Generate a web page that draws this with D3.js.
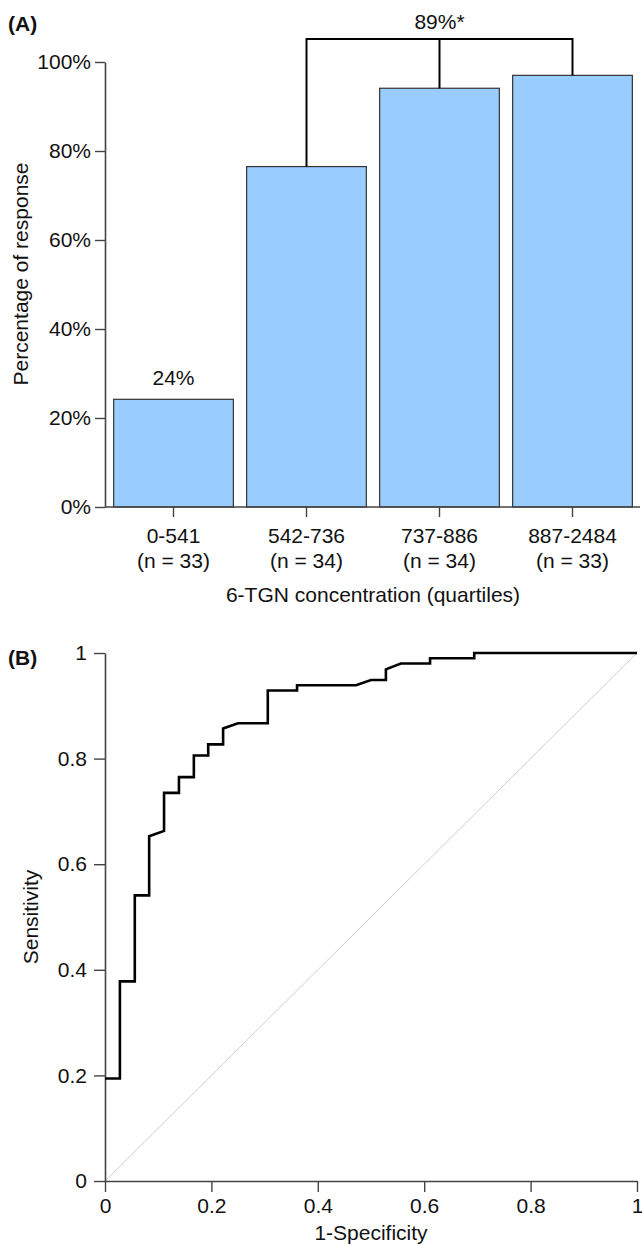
<!DOCTYPE html>
<html>
<head>
<meta charset="utf-8">
<script src="https://cdn.jsdelivr.net/npm/d3@7"></script>
<style>
  body { margin: 0; background: #fff; }
  text { font-family: "Liberation Sans", Arial, Helvetica, sans-serif; fill: #111; }
</style>
</head>
<body>
<div id="chart"></div>
<script>
// panel A data
var quartiles = ["0-541", "542-736", "737-886", "887-2484"];
var nCounts = ["(n = 33)", "(n = 34)", "(n = 34)", "(n = 33)"];
var responsePct = [24.2, 76.5, 94.1, 97.0];
var yTicksA = [0, 20, 40, 60, 80, 100];
var firstLabel = "24%";
var groupLabel = "89%*";

// panel B data (ROC steps)
var rocFpr = [0, 0.028, 0.028, 0.056, 0.056, 0.083, 0.083, 0.111, 0.111, 0.139, 0.139, 0.167, 0.167,
  0.194, 0.194, 0.222, 0.222, 0.250, 0.306, 0.306, 0.361, 0.361, 0.472, 0.500, 0.528, 0.528, 0.556,
  0.611, 0.611, 0.694, 0.694, 1];
var rocTpr = [0.194, 0.194, 0.378, 0.378, 0.541, 0.541, 0.653, 0.663, 0.735, 0.735, 0.765, 0.765, 0.806,
  0.806, 0.827, 0.827, 0.857, 0.867, 0.867, 0.929, 0.929, 0.939, 0.939, 0.949, 0.949, 0.969, 0.980,
  0.980, 0.990, 0.990, 1, 1];
var ticksB = [0, 0.2, 0.4, 0.6, 0.8, 1];

var W = 642, H = 1245, FS = 21;
var axisCol = "#444";

var svg = d3.select("#chart").append("svg")
  .attr("width", W).attr("height", H);

// ---------- panel A ----------
var xA = d3.scaleBand().domain(quartiles).range([107, 639]).paddingInner(0.1).paddingOuter(0.05);
var yA = d3.scaleLinear().domain([0, 100]).range([507, 62]);

var gA = svg.append("g");

gA.selectAll("rect.bar")
  .data(responsePct)
  .enter().append("rect")
  .attr("class", "bar")
  .attr("x", function(d, i) { return xA(quartiles[i]); })
  .attr("y", function(d) { return yA(d); })
  .attr("width", xA.bandwidth())
  .attr("height", function(d) { return yA(0) - yA(d); })
  .attr("style", "fill:#99ccff;stroke:#333;stroke-width:1.2");

var yAxisA = gA.append("g")
  .attr("transform", "translate(105,0)")
  .call(d3.axisLeft(yA).tickValues(yTicksA).tickFormat(function(d) { return d + "%"; })
    .tickSize(10).tickSizeOuter(0).tickPadding(4));

var xAxisA = gA.append("g")
  .attr("transform", "translate(0," + yA(0) + ")")
  .call(d3.axisBottom(xA).tickSize(10).tickPadding(11));
xAxisA.select(".domain").remove();
xAxisA.append("line")
  .attr("x1", 105).attr("x2", 640).attr("y1", 0).attr("y2", 0)
  .attr("stroke", axisCol).attr("stroke-width", 1.6);
xAxisA.selectAll(".tick text").each(function(d, i) {
  var t = d3.select(this);
  t.text(null);
  t.append("tspan").attr("x", 0).text(quartiles[i]);
  t.append("tspan").attr("x", 0).attr("dy", "1.2em").text(nCounts[i]);
});

gA.append("text")
  .attr("x", xA(quartiles[0]) + xA.bandwidth() / 2)
  .attr("y", 385)
  .attr("text-anchor", "middle")
  .attr("font-size", FS)
  .text(firstLabel);

// bracket over groups 2-4
var bracketY = 39;
var cx = quartiles.map(function(q) { return xA(q) + xA.bandwidth() / 2; });
gA.append("line")
  .attr("x1", cx[1]).attr("x2", cx[3]).attr("y1", bracketY).attr("y2", bracketY)
  .attr("stroke", "#000").attr("stroke-width", 2);
for (var i = 1; i < 4; i++) {
  gA.append("line")
    .attr("x1", cx[i]).attr("x2", cx[i])
    .attr("y1", bracketY - 1).attr("y2", yA(responsePct[i]))
    .attr("stroke", "#000").attr("stroke-width", 2);
}
gA.append("text")
  .attr("x", cx[2]).attr("y", 29)
  .attr("text-anchor", "middle")
  .attr("font-size", FS)
  .text(groupLabel);

gA.append("text")
  .attr("transform", "translate(28,274) rotate(-90)")
  .attr("text-anchor", "middle")
  .attr("font-size", FS)
  .text("Percentage of response");

gA.append("text")
  .attr("x", (cx[0] + cx[3]) / 2).attr("y", 602)
  .attr("text-anchor", "middle")
  .attr("font-size", FS)
  .text("6-TGN concentration (quartiles)");

svg.append("text")
  .attr("x", 8).attr("y", 31)
  .attr("font-size", FS).attr("font-weight", "bold")
  .text("(A)");

// ---------- panel B ----------
var xB = d3.scaleLinear().domain([0, 1]).range([105, 637]);
var yB = d3.scaleLinear().domain([0, 1]).range([1181, 653]);
var gB = svg.append("g");

gB.append("line")
  .attr("x1", xB(0)).attr("y1", yB(0)).attr("x2", xB(1)).attr("y2", yB(1))
  .attr("stroke", "#cfcfcf").attr("stroke-width", 1);

var yAxisB = gB.append("g")
  .attr("transform", "translate(105,0)")
  .call(d3.axisLeft(yB).tickValues(ticksB).tickFormat(String)
    .tickSize(11).tickSizeOuter(0).tickPadding(7));

var xAxisB = gB.append("g")
  .attr("transform", "translate(0,1181)")
  .call(d3.axisBottom(xB).tickValues(ticksB).tickFormat(String)
    .tickSize(11).tickSizeOuter(0).tickPadding(6));

var line = d3.line()
  .x(function(d, i) { return xB(rocFpr[i]); })
  .y(function(d, i) { return yB(rocTpr[i]); });
gB.append("path")
  .datum(rocFpr)
  .attr("d", line)
  .attr("fill", "none")
  .attr("stroke", "#000")
  .attr("stroke-width", 2.6)
  .attr("stroke-linejoin", "miter");

gB.append("text")
  .attr("transform", "translate(38,917) rotate(-90)")
  .attr("text-anchor", "middle")
  .attr("font-size", FS)
  .text("Sensitivity");

gB.append("text")
  .attr("x", xB(0.5)).attr("y", 1240)
  .attr("text-anchor", "middle")
  .attr("font-size", FS)
  .text("1-Specificity");

svg.append("text")
  .attr("x", 8).attr("y", 665)
  .attr("font-size", FS).attr("font-weight", "bold")
  .text("(B)");

// axis styling
svg.selectAll(".domain").attr("stroke", axisCol).attr("stroke-width", 1.6);
svg.selectAll(".tick line").attr("stroke", axisCol).attr("stroke-width", 1.4);
svg.selectAll(".tick text")
  .attr("font-size", FS)
  .attr("font-family", "Liberation Sans, Arial, sans-serif")
  .attr("fill", "#111");
</script>
</body>
</html>
